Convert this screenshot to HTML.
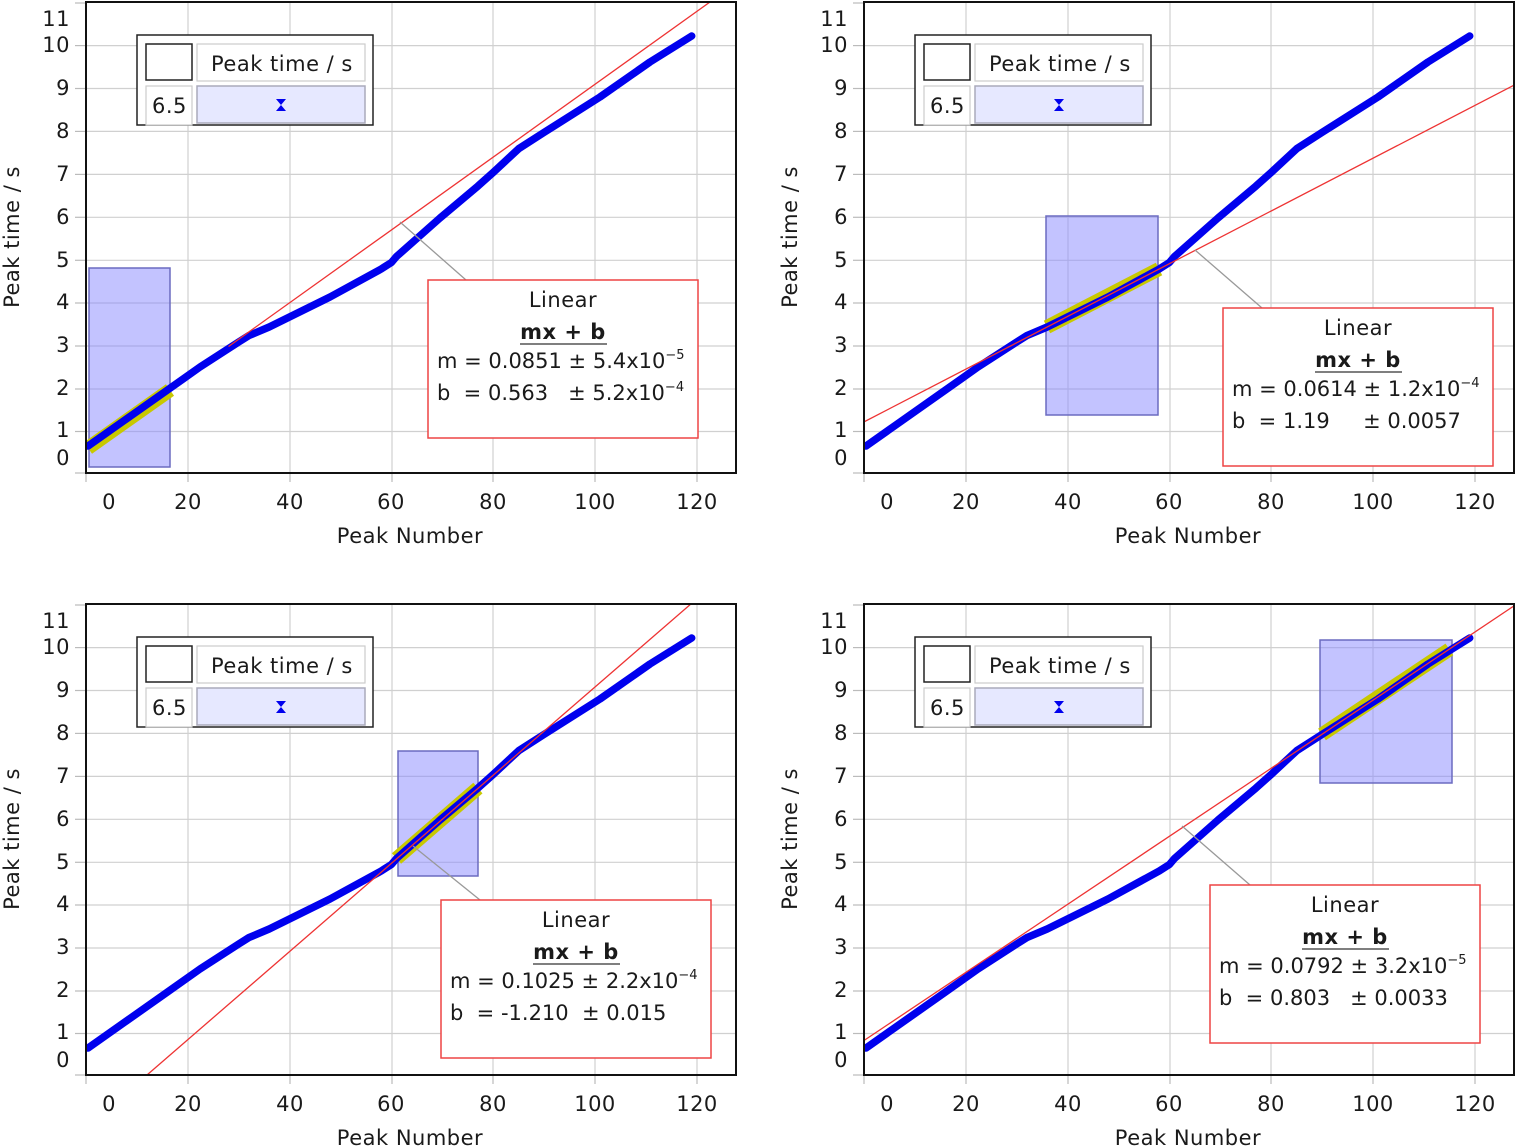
<!DOCTYPE html>
<html><head><meta charset="utf-8"><style>
html,body{margin:0;padding:0;background:#fff;}
svg{display:block;}
text{font-family:"DejaVu Sans","Liberation Sans",sans-serif;fill:#1a1a1a;white-space:pre;letter-spacing:0.5px;}
.t{font-size:21px;}
.f{letter-spacing:0;}
</style></head><body>
<svg width="1516" height="1147" viewBox="0 0 1516 1147" xmlns="http://www.w3.org/2000/svg" xml:space="preserve">
<defs>
<clipPath id="cp"><rect x="86" y="2" width="650" height="471"/></clipPath>
<g id="grid">
<rect x="86" y="2" width="650" height="471" fill="#fff"/>
<g stroke="#d0d0d0" stroke-width="1.2">
<line x1="188" y1="2" x2="188" y2="473"/><line x1="290" y1="2" x2="290" y2="473"/><line x1="392" y1="2" x2="392" y2="473"/><line x1="493" y1="2" x2="493" y2="473"/><line x1="595" y1="2" x2="595" y2="473"/><line x1="697" y1="2" x2="697" y2="473"/>
<line x1="86" y1="45.6" x2="736" y2="45.6"/><line x1="86" y1="88.5" x2="736" y2="88.5"/><line x1="86" y1="131.4" x2="736" y2="131.4"/><line x1="86" y1="174.4" x2="736" y2="174.4"/><line x1="86" y1="217.3" x2="736" y2="217.3"/><line x1="86" y1="260.3" x2="736" y2="260.3"/><line x1="86" y1="303" x2="736" y2="303"/><line x1="86" y1="346" x2="736" y2="346"/><line x1="86" y1="389" x2="736" y2="389"/><line x1="86" y1="431.5" x2="736" y2="431.5"/>
</g>
<g stroke="#bbb" stroke-width="1.2">
<line x1="75" y1="3" x2="86" y2="3"/><line x1="75" y1="45.6" x2="86" y2="45.6"/><line x1="75" y1="88.5" x2="86" y2="88.5"/><line x1="75" y1="131.4" x2="86" y2="131.4"/><line x1="75" y1="174.4" x2="86" y2="174.4"/><line x1="75" y1="217.3" x2="86" y2="217.3"/><line x1="75" y1="260.3" x2="86" y2="260.3"/><line x1="75" y1="303" x2="86" y2="303"/><line x1="75" y1="346" x2="86" y2="346"/><line x1="75" y1="389" x2="86" y2="389"/><line x1="75" y1="431.5" x2="86" y2="431.5"/><line x1="75" y1="473" x2="86" y2="473"/>
<line x1="86" y1="473" x2="86" y2="482"/><line x1="188" y1="473" x2="188" y2="482"/><line x1="290" y1="473" x2="290" y2="482"/><line x1="392" y1="473" x2="392" y2="482"/><line x1="493" y1="473" x2="493" y2="482"/><line x1="595" y1="473" x2="595" y2="482"/><line x1="697" y1="473" x2="697" y2="482"/>
</g>
</g>
<polyline id="curve" fill="none" stroke="#0000ee" stroke-width="7.5" stroke-linejoin="round" stroke-linecap="round" points="88,446 167.4,390.1 200,367 238.7,342 248.9,335.6 269.2,327 330,297 381.2,269 391.4,262.5 396.5,256.5 440,218 477.9,186.1 493.2,172.4 518.7,148.7 544.1,132.4 600,97 650,62 691.7,36"/>
<g id="frame"><rect x="86" y="2" width="650" height="471" fill="none" stroke="#111" stroke-width="2"/></g>
<g id="legend">
<rect x="137" y="35" width="236" height="90" fill="#fff" stroke="#222" stroke-width="1.5"/>
<rect x="146" y="44" width="46" height="36" fill="#fff" stroke="#222" stroke-width="1.5"/>
<rect x="197" y="44" width="168" height="37" fill="#fff" stroke="#ccc" stroke-width="1.2"/>
<rect x="146" y="86" width="46" height="39" fill="#fff" stroke="#ccc" stroke-width="1.2"/>
<rect x="197" y="86" width="168" height="37" fill="#e6e8ff" stroke="#aab" stroke-width="1.5"/>
<path d="M276,99 L286,99 L281,105 L286,111 L276,111 L281,105 Z" fill="#0000ee"/>
</g>
</defs>

<!-- Panel TL -->
<g>
<use href="#grid"/>
<g clip-path="url(#cp)">
<rect x="89" y="268" width="81" height="199" fill="#8888ff" fill-opacity="0.5" stroke="#6b6bc0" stroke-width="1.5"/>
<line x1="88" y1="448" x2="170" y2="390" stroke="#c8c800" stroke-width="14"/>
<use href="#curve"/>
<line x1="228.5" y1="346.5" x2="710" y2="2" stroke="#ee3333" stroke-width="1.3"/>
</g>
<use href="#frame"/>
<use href="#legend"/>
<text class="t" x="211" y="71">Peak time / s</text>
<text class="t" x="152" y="113">6.5</text>
<line x1="400" y1="222" x2="466" y2="280" stroke="#999" stroke-width="1.3"/>
<rect x="428" y="280" width="270" height="158" fill="#fff" stroke="#ee4444" stroke-width="1.5"/>
<text class="t" x="563" y="307" text-anchor="middle">Linear</text>
<text class="t" x="563" y="339" text-anchor="middle" font-weight="bold">mx + b</text>
<line x1="520" y1="344" x2="607" y2="344" stroke="#555" stroke-width="1.5"/>
<text class="t f" x="437" y="368">m = 0.0851 ± 5.4x10<tspan font-size="13" dy="-9">−5</tspan></text>
<text class="t f" x="437" y="400">b  = 0.563   ± 5.2x10<tspan font-size="13" dy="-9">−4</tspan></text>
<g class="t" text-anchor="end">
<text x="70" y="26">11</text><text x="70" y="52">10</text><text x="70" y="95">9</text><text x="70" y="138">8</text><text x="70" y="181">7</text><text x="70" y="224">6</text><text x="70" y="267">5</text><text x="70" y="309">4</text><text x="70" y="352">3</text><text x="70" y="395">2</text><text x="70" y="437">1</text><text x="70" y="465">0</text>
</g>
<g class="t" text-anchor="middle">
<text x="109" y="509">0</text><text x="188" y="509">20</text><text x="290" y="509">40</text><text x="391" y="509">60</text><text x="493" y="509">80</text><text x="595" y="509">100</text><text x="697" y="509">120</text>
<text x="410" y="543">Peak Number</text>
<text transform="translate(19,237) rotate(-90)">Peak time / s</text>
</g>
</g>

<!-- Panel TR -->
<g transform="translate(778,0)">
<use href="#grid"/>
<g clip-path="url(#cp)">
<rect x="268" y="216" width="112" height="199" fill="#8888ff" fill-opacity="0.5" stroke="#6b6bc0" stroke-width="1.5"/>
<line x1="269" y1="327" x2="381" y2="269" stroke="#c8c800" stroke-width="14"/>
<use href="#curve"/>
<line x1="86" y1="421.9" x2="736" y2="85.2" stroke="#ee3333" stroke-width="1.3"/>
</g>
<use href="#frame"/>
<use href="#legend"/>
<text class="t" x="211" y="71">Peak time / s</text>
<text class="t" x="152" y="113">6.5</text>
<line x1="417" y1="250" x2="484" y2="308" stroke="#999" stroke-width="1.3"/>
<rect x="445" y="308" width="270" height="158" fill="#fff" stroke="#ee4444" stroke-width="1.5"/>
<text class="t" x="580" y="335" text-anchor="middle">Linear</text>
<text class="t" x="580" y="367" text-anchor="middle" font-weight="bold">mx + b</text>
<line x1="537" y1="372" x2="624" y2="372" stroke="#555" stroke-width="1.5"/>
<text class="t f" x="454" y="396">m = 0.0614 ± 1.2x10<tspan font-size="13" dy="-9">−4</tspan></text>
<text class="t f" x="454" y="428">b  = 1.19     ± 0.0057</text>
<g class="t" text-anchor="end">
<text x="70" y="26">11</text><text x="70" y="52">10</text><text x="70" y="95">9</text><text x="70" y="138">8</text><text x="70" y="181">7</text><text x="70" y="224">6</text><text x="70" y="267">5</text><text x="70" y="309">4</text><text x="70" y="352">3</text><text x="70" y="395">2</text><text x="70" y="437">1</text><text x="70" y="465">0</text>
</g>
<g class="t" text-anchor="middle">
<text x="109" y="509">0</text><text x="188" y="509">20</text><text x="290" y="509">40</text><text x="391" y="509">60</text><text x="493" y="509">80</text><text x="595" y="509">100</text><text x="697" y="509">120</text>
<text x="410" y="543">Peak Number</text>
<text transform="translate(19,237) rotate(-90)">Peak time / s</text>
</g>
</g>

<!-- Panel BL -->
<g transform="translate(0,602)">
<use href="#grid"/>
<g clip-path="url(#cp)">
<rect x="398" y="149" width="80" height="125" fill="#8888ff" fill-opacity="0.5" stroke="#6b6bc0" stroke-width="1.5"/>
<line x1="396.5" y1="256.5" x2="477.9" y2="186.1" stroke="#c8c800" stroke-width="14"/>
<use href="#curve"/>
<line x1="147" y1="473" x2="692" y2="1" stroke="#ee3333" stroke-width="1.3"/>
</g>
<use href="#frame"/>
<use href="#legend"/>
<text class="t" x="211" y="71">Peak time / s</text>
<text class="t" x="152" y="113">6.5</text>
<line x1="413" y1="244" x2="480" y2="298" stroke="#999" stroke-width="1.3"/>
<rect x="441" y="298" width="270" height="158" fill="#fff" stroke="#ee4444" stroke-width="1.5"/>
<text class="t" x="576" y="325" text-anchor="middle">Linear</text>
<text class="t" x="576" y="357" text-anchor="middle" font-weight="bold">mx + b</text>
<line x1="533" y1="362" x2="620" y2="362" stroke="#555" stroke-width="1.5"/>
<text class="t f" x="450" y="386">m = 0.1025 ± 2.2x10<tspan font-size="13" dy="-9">−4</tspan></text>
<text class="t f" x="450" y="418">b  = -1.210  ± 0.015</text>
<g class="t" text-anchor="end">
<text x="70" y="26">11</text><text x="70" y="52">10</text><text x="70" y="95">9</text><text x="70" y="138">8</text><text x="70" y="181">7</text><text x="70" y="224">6</text><text x="70" y="267">5</text><text x="70" y="309">4</text><text x="70" y="352">3</text><text x="70" y="395">2</text><text x="70" y="437">1</text><text x="70" y="465">0</text>
</g>
<g class="t" text-anchor="middle">
<text x="109" y="509">0</text><text x="188" y="509">20</text><text x="290" y="509">40</text><text x="391" y="509">60</text><text x="493" y="509">80</text><text x="595" y="509">100</text><text x="697" y="509">120</text>
<text x="410" y="543">Peak Number</text>
<text transform="translate(19,237) rotate(-90)">Peak time / s</text>
</g>
</g>

<!-- Panel BR -->
<g transform="translate(778,602)">
<use href="#grid"/>
<g clip-path="url(#cp)">
<rect x="542" y="38" width="132" height="143" fill="#8888ff" fill-opacity="0.5" stroke="#6b6bc0" stroke-width="1.5"/>
<line x1="544" y1="132.4" x2="671.4" y2="47.4" stroke="#c8c800" stroke-width="14"/>
<use href="#curve"/>
<line x1="86" y1="438.5" x2="736" y2="3.9" stroke="#ee3333" stroke-width="1.3"/>
</g>
<use href="#frame"/>
<use href="#legend"/>
<text class="t" x="211" y="71">Peak time / s</text>
<text class="t" x="152" y="113">6.5</text>
<line x1="404" y1="224" x2="472" y2="283" stroke="#999" stroke-width="1.3"/>
<rect x="432" y="283" width="270" height="158" fill="#fff" stroke="#ee4444" stroke-width="1.5"/>
<text class="t" x="567" y="310" text-anchor="middle">Linear</text>
<text class="t" x="567" y="342" text-anchor="middle" font-weight="bold">mx + b</text>
<line x1="524" y1="347" x2="611" y2="347" stroke="#555" stroke-width="1.5"/>
<text class="t f" x="441" y="371">m = 0.0792 ± 3.2x10<tspan font-size="13" dy="-9">−5</tspan></text>
<text class="t f" x="441" y="403">b  = 0.803   ± 0.0033</text>
<g class="t" text-anchor="end">
<text x="70" y="26">11</text><text x="70" y="52">10</text><text x="70" y="95">9</text><text x="70" y="138">8</text><text x="70" y="181">7</text><text x="70" y="224">6</text><text x="70" y="267">5</text><text x="70" y="309">4</text><text x="70" y="352">3</text><text x="70" y="395">2</text><text x="70" y="437">1</text><text x="70" y="465">0</text>
</g>
<g class="t" text-anchor="middle">
<text x="109" y="509">0</text><text x="188" y="509">20</text><text x="290" y="509">40</text><text x="391" y="509">60</text><text x="493" y="509">80</text><text x="595" y="509">100</text><text x="697" y="509">120</text>
<text x="410" y="543">Peak Number</text>
<text transform="translate(19,237) rotate(-90)">Peak time / s</text>
</g>
</g>
</svg>
</body></html>
